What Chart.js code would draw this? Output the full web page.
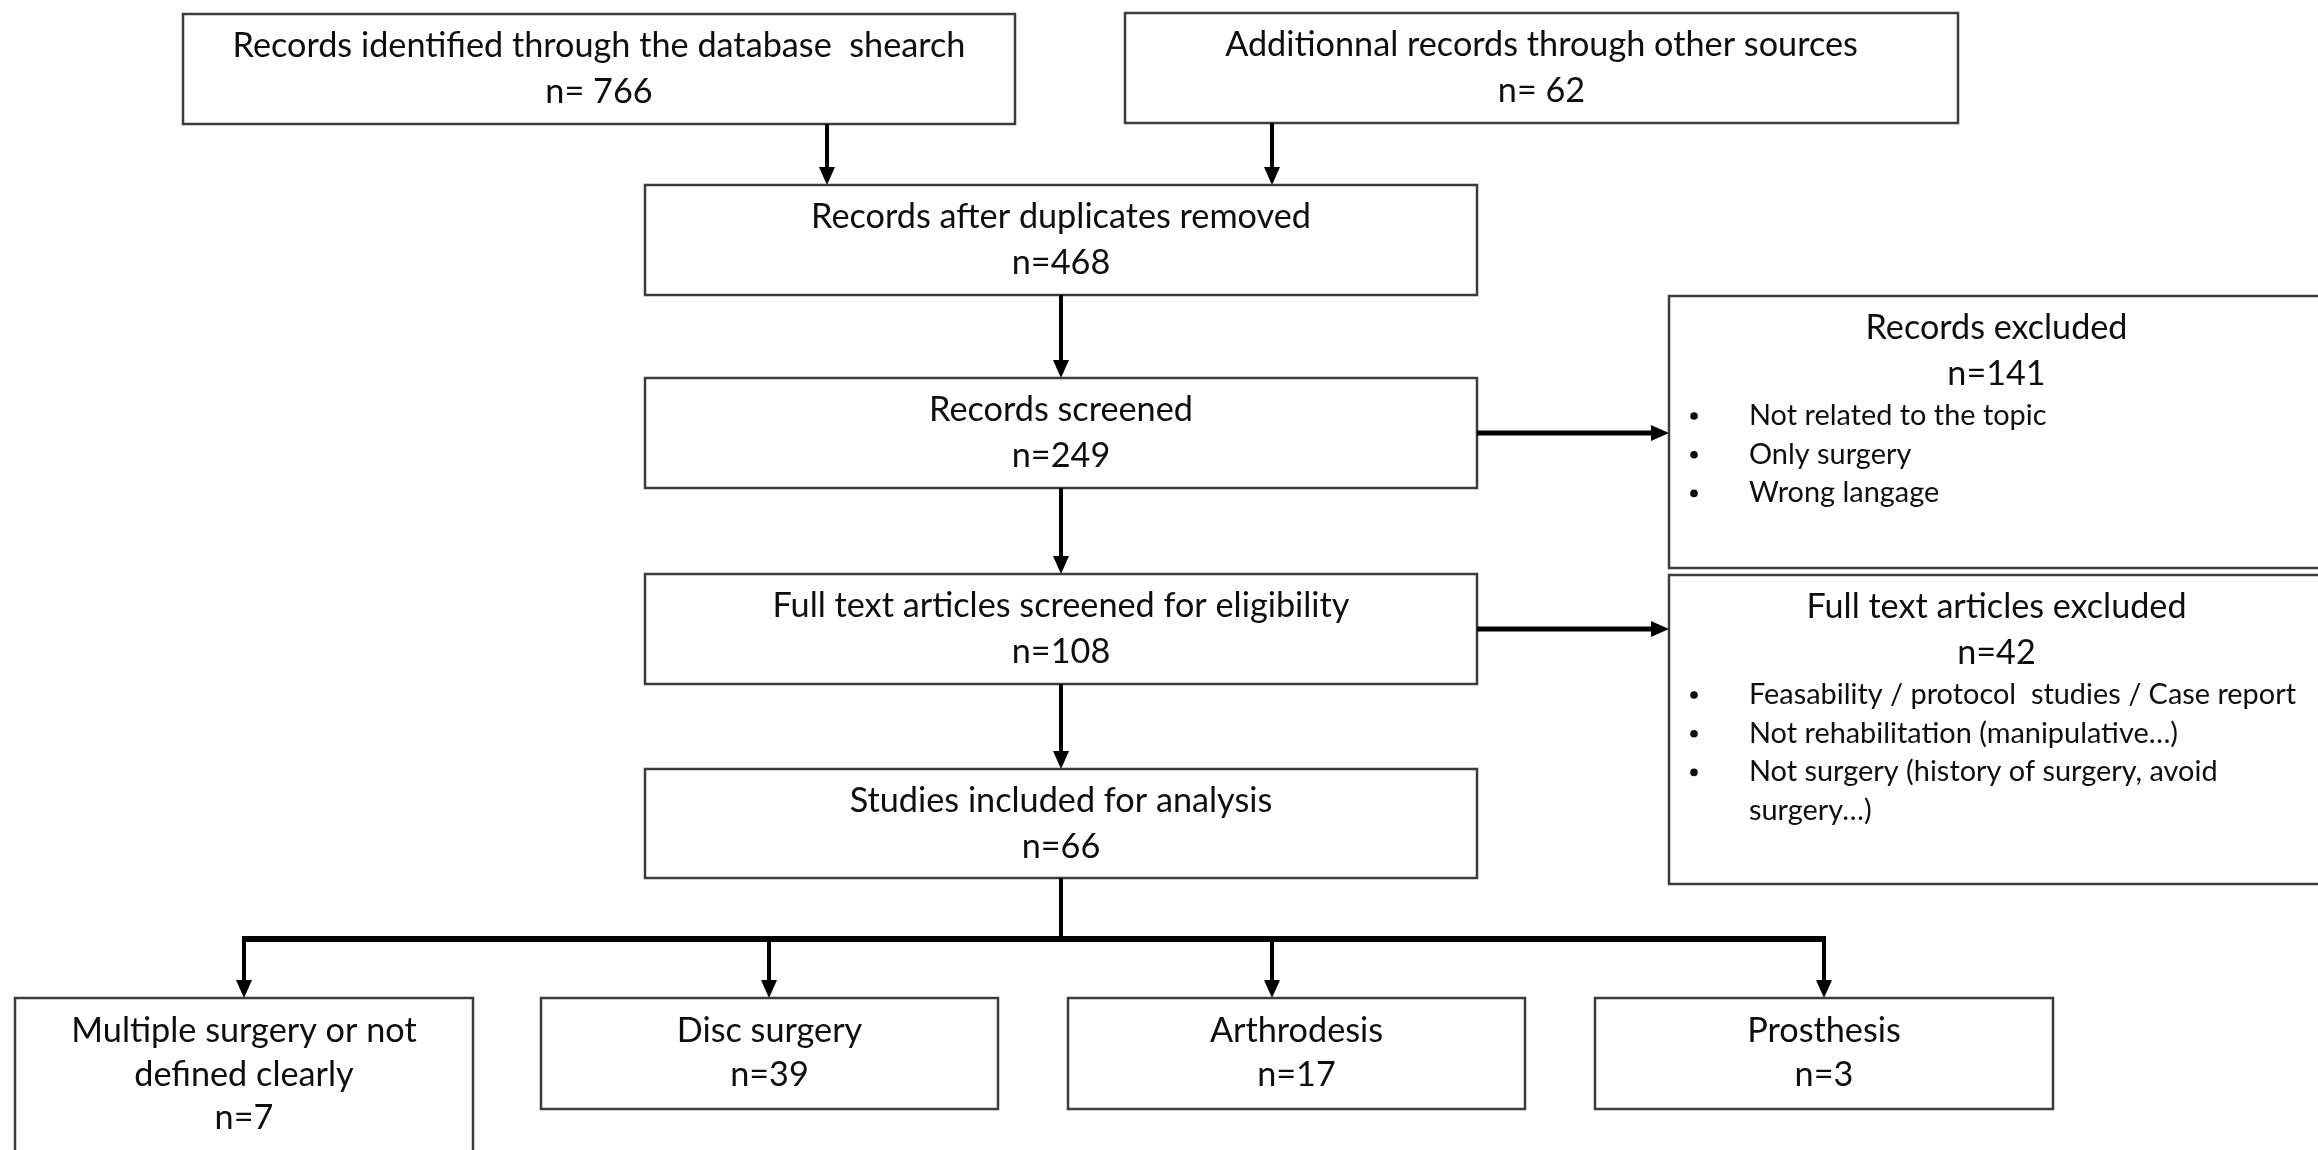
<!DOCTYPE html>
<html>
<head>
<meta charset="utf-8">
<script src="https://cdn.jsdelivr.net/npm/chart.js@4/dist/chart.umd.min.js"></script>
<style>
  html, body { margin: 0; padding: 0; background: #ffffff; }
  #wrap { width: 2318px; height: 1150px; position: relative; }
</style>
</head>
<body>
<div id="wrap"><canvas id="c" width="2318" height="1150"></canvas></div>
<script>
// ---------- DATA ----------
const sourceTitles = ["Records identified through the database  shearch", "Additionnal records through other sources"];
const sourceCounts = [766, 62];
const flowTitles = ["Records after duplicates removed", "Records screened", "Full text articles screened for eligibility", "Studies included for analysis"];
const flowCounts = [468, 249, 108, 66];
const excludedTitles = ["Records excluded", "Full text articles excluded"];
const excludedCounts = [141, 42];
const excludedReasons = [
  [["Not related to the topic"], ["Only surgery"], ["Wrong langage"]],
  [["Feasability / protocol  studies / Case report"], ["Not rehabilitation (manipulative\u2026)"], ["Not surgery (history of surgery, avoid", "surgery\u2026)"]]
];
const surgeryTypes = [["Multiple surgery or not", "defined clearly"], ["Disc surgery"], ["Arthrodesis"], ["Prosthesis"]];
const surgeryCounts = [7, 39, 17, 3];

// ---------- LAYOUT (positions in the diagram's own 0..2318 x 0..1150 value space) ----------
const layout = {
  source: [{x0: 183, x1: 1015, y0: 14, y1: 124, arrowX: 827}, {x0: 1125, x1: 1958, y0: 13, y1: 123, arrowX: 1272}],
  flow: [{y0: 185, y1: 295}, {y0: 378, y1: 488}, {y0: 574, y1: 684}, {y0: 769, y1: 878}],
  flowX0: 645, flowX1: 1477, flowCx: 1061,
  excluded: [{y0: 296, y1: 568, arrowY: 433}, {y0: 575, y1: 884, arrowY: 629}],
  exclX0: 1669, exclX1: 2324, exclBulletX: 1694, exclTextX: 1749,
  branchY: 939,
  bottom: [{x0: 15, x1: 473, arrowX: 244}, {x0: 541, x1: 998, arrowX: 769}, {x0: 1068, x1: 1525, arrowX: 1272}, {x0: 1595, x1: 2053, arrowX: 1824}],
  bottomY0: 998, bottomY1: [1162, 1109, 1109, 1109]
};
const style = {
  font: "Lato, 'Open Sans', sans-serif",
  fontSize: 34,
  bulletFontSize: 28,
  mainRefText: "Full text articles screened for eligibility", mainRefWidth: 577,
  sideRefText: "Full text articles excluded", sideRefWidth: 380,
  bulletRefText: "Feasability / protocol  studies / Case report", bulletRefWidth: 547,
  boxColor: "#3c3c3c", boxWidth: 2.5,
  textColor: "#0e0e0e",
  arrowColor: "#000000"
};

// ---------- DRAWING PLUGIN ----------
const flowPlugin = {
  id: 'flow',
  afterDraw(chart) {
    const ctx = chart.ctx;
    const xs = chart.scales.x, ys = chart.scales.y;
    const X = v => xs.getPixelForValue(v);
    const Y = v => ys.getPixelForValue(v);
    ctx.save();
    ctx.font = style.fontSize + "px " + style.font;
    const mainSx = style.mainRefWidth / ctx.measureText(style.mainRefText).width;
    const sideSx = style.sideRefWidth / ctx.measureText(style.sideRefText).width;
    ctx.font = style.bulletFontSize + "px " + style.font;
    const bulletSx = style.bulletRefWidth / ctx.measureText(style.bulletRefText).width;

    function box(x0, y0, x1, y1) {
      ctx.save();
      ctx.strokeStyle = style.boxColor;
      ctx.lineWidth = style.boxWidth;
      ctx.strokeRect(X(x0), Y(y0), X(x1) - X(x0), Y(y1) - Y(y0));
      ctx.restore();
    }
    function text(str, x, baseline, align, sx, size) {
      ctx.save();
      ctx.fillStyle = style.textColor;
      ctx.font = (size || style.fontSize) + "px " + style.font;
      ctx.textAlign = align;
      ctx.textBaseline = 'alphabetic';
      ctx.translate(X(x), Y(baseline));
      ctx.scale(sx, 1);
      ctx.fillText(str, 0, 0);
      ctx.restore();
    }
    function line(x0, y0, x1, y1, w) {
      ctx.save();
      ctx.strokeStyle = style.arrowColor;
      ctx.lineWidth = w;
      ctx.lineCap = 'butt';
      ctx.beginPath();
      ctx.moveTo(X(x0), Y(y0));
      ctx.lineTo(X(x1), Y(y1));
      ctx.stroke();
      ctx.restore();
    }
    function arrowDown(x, y0, y1, w) {
      const tip = Y(y1), px = X(x);
      line(x, y0, x, y1 - 10, w);
      ctx.save();
      ctx.fillStyle = style.arrowColor;
      ctx.beginPath();
      ctx.moveTo(px - 8, tip - 18);
      ctx.lineTo(px + 8, tip - 18);
      ctx.lineTo(px, tip);
      ctx.closePath();
      ctx.fill();
      ctx.restore();
    }
    function arrowRight(x0, x1, y, w) {
      const tip = X(x1), py = Y(y);
      line(x0, y, x1 - 10, y, w);
      ctx.save();
      ctx.fillStyle = style.arrowColor;
      ctx.beginPath();
      ctx.moveTo(tip - 18, py - 8);
      ctx.lineTo(tip - 18, py + 8);
      ctx.lineTo(tip, py);
      ctx.closePath();
      ctx.fill();
      ctx.restore();
    }

    // source boxes
    sourceTitles.forEach((t, i) => {
      const b = layout.source[i];
      box(b.x0, b.y0, b.x1, b.y1);
      const cx = (b.x0 + b.x1) / 2;
      text(t, cx, b.y0 + 43, 'center', mainSx);
      text("n= " + sourceCounts[i], cx, b.y0 + 89, 'center', mainSx);
      arrowDown(b.arrowX, b.y1, layout.flow[0].y0, 4);
    });

    // main flow
    flowTitles.forEach((t, i) => {
      const b = layout.flow[i];
      box(layout.flowX0, b.y0, layout.flowX1, b.y1);
      text(t, layout.flowCx, b.y0 + 43, 'center', mainSx);
      text("n=" + flowCounts[i], layout.flowCx, b.y0 + 89, 'center', mainSx);
      if (i < flowTitles.length - 1) arrowDown(layout.flowCx, b.y1, layout.flow[i + 1].y0, 4);
    });

    // excluded boxes
    excludedTitles.forEach((t, i) => {
      const b = layout.excluded[i];
      box(layout.exclX0, b.y0, layout.exclX1, b.y1);
      const cx = (layout.exclX0 + layout.exclX1) / 2;
      text(t, cx, b.y0 + 43, 'center', sideSx);
      text("n=" + excludedCounts[i], cx, b.y0 + 89, 'center', sideSx);
      let ln = 0;
      excludedReasons[i].forEach(reason => {
        reason.forEach((part, k) => {
          const base = b.y0 + 129 + ln * 38.7;
          if (k === 0) {
            ctx.save();
            ctx.fillStyle = style.textColor;
            ctx.beginPath();
            ctx.arc(X(layout.exclBulletX), Y(base - 9), 3.8, 0, Math.PI * 2);
            ctx.fill();
            ctx.restore();
          }
          text(part, layout.exclTextX, base, 'left', bulletSx, style.bulletFontSize);
          ln++;
        });
      });
      arrowRight(layout.flowX1, layout.exclX0, b.arrowY, 5);
    });

    // branching to surgery types
    const last = layout.flow[layout.flow.length - 1];
    line(layout.flowCx, last.y1, layout.flowCx, layout.branchY + 3, 4);
    line(layout.bottom[0].arrowX - 2, layout.branchY, layout.bottom[layout.bottom.length - 1].arrowX + 2, layout.branchY, 6);
    surgeryTypes.forEach((lines, i) => {
      const b = layout.bottom[i];
      arrowDown(b.arrowX, layout.branchY, layout.bottomY0, 4);
      box(b.x0, layout.bottomY0, b.x1, layout.bottomY1[i]);
      const cx = (b.x0 + b.x1) / 2;
      const all = lines.concat(["n=" + surgeryCounts[i]]);
      all.forEach((s, k) => text(s, cx, layout.bottomY0 + 44 + k * 43.5, 'center', mainSx));
    });
    ctx.restore();
  }
};

new Chart(document.getElementById('c'), {
  type: 'scatter',
  data: { datasets: [{ data: [], pointRadius: 0 }] },
  options: {
    responsive: false,
    maintainAspectRatio: false,
    devicePixelRatio: 1,
    animation: false,
    layout: { padding: 0 },
    plugins: { legend: { display: false }, tooltip: { enabled: false } },
    scales: {
      x: { type: 'linear', min: 0, max: 2318, display: false },
      y: { type: 'linear', min: 0, max: 1150, reverse: true, display: false }
    }
  },
  plugins: [flowPlugin]
});
</script>
</body>
</html>
